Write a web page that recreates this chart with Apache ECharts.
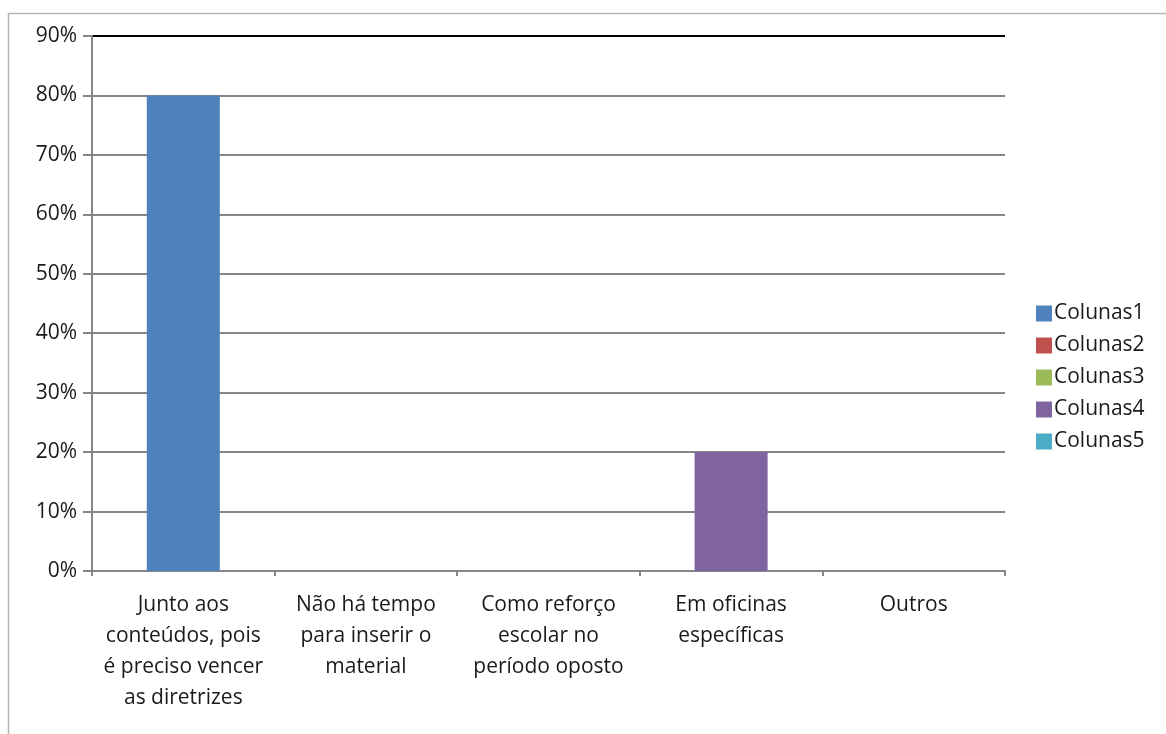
<!DOCTYPE html>
<html>
<head>
<meta charset="utf-8">
<script src="https://cdn.jsdelivr.net/npm/echarts@6/dist/echarts.min.js"></script>
<style>
html,body{margin:0;padding:0;background:#fff;}
#chart{width:1166px;height:734px;}
</style>
</head>
<body>
<div id="chart"></div>
<script>
const categories = [
  "Junto aos\nconteúdos, pois\né preciso vencer\nas diretrizes",
  "Não há tempo\npara inserir o\nmaterial",
  "Como reforço\nescolar no\nperíodo oposto",
  "Em oficinas\nespecíficas",
  "Outros"
];
const seriesNames = ["Colunas1", "Colunas2", "Colunas3", "Colunas4", "Colunas5"];
const colunas1 = [0.80, null, null, null, null];
const colunas2 = [null, 0, null, null, null];
const colunas3 = [null, null, 0, null, null];
const colunas4 = [null, null, null, 0.20, null];
const colunas5 = [null, null, null, null, 0];
const yTicks = [0, 0.1, 0.2, 0.3, 0.4, 0.5, 0.6, 0.7, 0.8, 0.9];
const colors = ["#4F81BD", "#C0504D", "#9BBB59", "#8064A2", "#4BACC6"];

const seriesData = [colunas1, colunas2, colunas3, colunas4, colunas5];
const FONT = "'Open Sans', sans-serif";
const chart = echarts.init(document.getElementById('chart'), null, {renderer: 'canvas'});
const gridColors = yTicks.map((v, i) => i === yTicks.length - 1 ? '#000000' : '#868686');

chart.setOption({
  animation: false,
  color: colors,
  graphic: [{
    type: 'rect', left: 6, top: 11, shape: {width: 1300, height: 900},
    style: {fill: 'none', stroke: '#b4b4b4', lineWidth: 1.5}, silent: true
  }],
  grid: {left: 92, right: 161, top: 36, bottom: 163, containLabel: false},
  legend: {
    orient: 'vertical', left: 1031, top: 298,
    itemWidth: 16, itemHeight: 16, itemGap: 11,
    icon: 'rect',
    textStyle: {fontFamily: FONT, fontSize: 21, color: '#1a1a1a', padding: [0,0,0,-3]},
    data: seriesNames
  },
  xAxis: {
    type: 'category', data: categories,
    axisLine: {lineStyle: {color: '#868686', width: 2}},
    axisTick: {show: true, length: 5, lineStyle: {color: '#868686', width: 2}},
    axisLabel: {fontFamily: FONT, fontSize: 21, color: '#1a1a1a', lineHeight: 30.8, margin: 19, interval: 0}
  },
  yAxis: {
    type: 'value', min: 0, max: 0.9, interval: 0.1,
    axisLine: {show: true, lineStyle: {color: '#868686', width: 2}},
    axisTick: {show: true, length: 9, lineStyle: {color: '#868686', width: 2}},
    axisLabel: {fontFamily: FONT, fontSize: 21, color: '#1a1a1a', margin: 15,
      formatter: v => Math.round(v * 100) + '%'},
    splitLine: {show: true, lineStyle: {color: gridColors, width: 2}}
  },
  series: seriesNames.map((name, i) => ({
    name: name, type: 'bar', stack: 'all', barWidth: '40%',
    data: seriesData[i],
    itemStyle: {color: colors[i]}
  }))
});
</script>
</body>
</html>
